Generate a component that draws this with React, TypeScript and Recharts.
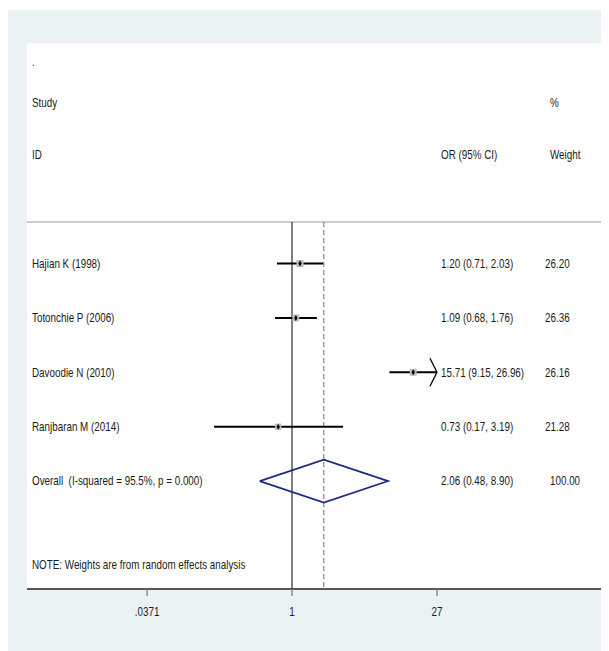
import { CartesianGrid, ReferenceLine, Scatter, ScatterChart, XAxis, YAxis } from "recharts";

// study-level results (odds ratios, 95% CI, random-effects weights)
const studies = ["Hajian K (1998)", "Totonchie P (2006)", "Davoodie N (2010)", "Ranjbaran M (2014)"];
const oddsRatios = [1.2, 1.09, 15.71, 0.73];
const lowerCI = [0.71, 0.68, 9.15, 0.17];
const upperCI = [2.03, 1.76, 26.96, 3.19];
const weights = [26.2, 26.36, 26.16, 21.28];
const clippedUpper = [false, false, true, false];

const overallLabel = "Overall  (I-squared = 95.5%, p = 0.000)";
const overallOR = 2.06;
const overallLower = 0.48;
const overallUpper = 8.9;
const overallWeight = 100;

const xTicks = [0.0371, 1, 27];
const xTickLabels = [".0371", "1", "27"];
const noteText = "NOTE: Weights are from random effects analysis";

// no narrow font installed -> squeeze Liberation Sans to Arial Narrow width
const FONT = "'Liberation Sans', Arial, sans-serif";
const SQUEEZE = 0.82;
const TEXT = "#1a1a1a";

// vertical layout in row units (study 1 = row 1)
const Y_DOMAIN: [number, number] = [-3.053, 6.983];
const SEP_ROW = 0.237;
const OVERALL_ROW = studies.length + 1;
const DIAMOND_H = 0.395;

const fmt = (v: number) => v.toFixed(2);
const ciText = (o: number, l: number, u: number) => `${fmt(o)} (${fmt(l)}, ${fmt(u)})`;

const studyPoints = studies.map((name, i) => ({
  x: oddsRatios[i],
  y: i + 1,
  w: weights[i],
}));

const textRows = [
  { x: 1, y: -2.704, left: ".", mid: "", right: "", wide: true },
  { x: 1, y: -1.96, left: "Study", mid: "", right: "%", wide: true },
  { x: 1, y: -0.994, left: "ID", mid: "OR (95% CI)", right: "Weight", wide: true },
  ...studies.map((name, i) => ({
    x: oddsRatios[i],
    y: i + 1,
    left: name,
    mid: ciText(oddsRatios[i], lowerCI[i], upperCI[i]),
    right: fmt(weights[i]),
    wide: false,
  })),
  {
    x: overallOR,
    y: OVERALL_ROW,
    left: overallLabel,
    mid: ciText(overallOR, overallLower, overallUpper),
    right: fmt(overallWeight),
    wide: true,
  },
  { x: 1, y: 6.54, left: noteText, mid: "", right: "", wide: true },
];

const diamond = [
  { x: overallLower, y: OVERALL_ROW },
  { x: overallOR, y: OVERALL_ROW - DIAMOND_H },
  { x: overallUpper, y: OVERALL_ROW },
  { x: overallOR, y: OVERALL_ROW + DIAMOND_H },
  { x: overallLower, y: OVERALL_ROW },
];

function Narrow({ x, y, children, anchor = "start", dy = "0.35em" }: any) {
  return (
    <g transform={`translate(${x},${y})`}>
      <text
        transform={`scale(${SQUEEZE},1)`}
        textAnchor={anchor}
        dy={dy}
        fontFamily={FONT}
        fontSize={12}
        fill={TEXT}
        style={{ whiteSpace: "pre" }}
      >
        {children}
      </text>
    </g>
  );
}

function TextRow(props: any) {
  const { cy, payload } = props;
  return (
    <g>
      {payload.left && <Narrow x={24} y={cy}>{payload.left}</Narrow>}
      {payload.mid && <Narrow x={433} y={cy}>{payload.mid}</Narrow>}
      {payload.right && (
        <Narrow x={payload.wide ? 542 : 537} y={cy}>
          {payload.right}
        </Narrow>
      )}
    </g>
  );
}

function AxisTick(props: any) {
  const { x, y, payload } = props;
  const label = xTickLabels[xTicks.indexOf(payload.value)] ?? String(payload.value);
  return (
    <Narrow x={x} y={y} anchor="middle" dy="0.71em">
      {label}
    </Narrow>
  );
}

function StudyMarker(props: any) {
  const { cx, cy, payload } = props;
  const s = 7 * Math.sqrt(payload.w / 26.36);
  return (
    <g>
      <rect x={cx - s / 2} y={cy - s / 2} width={s} height={s} fill="#bdbdbd" />
      <path d={`M${cx},${cy - 3}L${cx + 1.7},${cy}L${cx},${cy + 3}L${cx - 1.7},${cy}Z`} fill="#000" />
    </g>
  );
}

function CiLine(arrow: boolean) {
  return (p: any) => (
    <g>
      <line x1={p.x1} y1={p.y1} x2={p.x2} y2={p.y2} stroke="#000" strokeWidth={2} />
      {arrow && (
        <polyline
          points={`${p.x2 - 7},${p.y2 - 14} ${p.x2},${p.y2} ${p.x2 - 7},${p.y2 + 14}`}
          fill="none"
          stroke="#000"
          strokeWidth={1.3}
        />
      )}
    </g>
  );
}

export default function App() {
  return (
    <div style={{ width: 601, paddingTop: 2 }}>
      <div style={{ width: 601, height: 641, background: "#eaf2f3" }}>
        <ScatterChart width={601} height={641} margin={{ top: 33, right: 5, bottom: 22, left: 19 }}>
          <CartesianGrid fill="#ffffff" horizontal={false} vertical={false} />
          <XAxis
            dataKey="x"
            type="number"
            scale="log"
            domain={[0.00242, 1201]}
            allowDataOverflow
            ticks={xTicks}
            height={40}
            tickSize={7}
            tickMargin={11}
            tick={AxisTick}
            tickLine={{ stroke: "#8a8a8a", strokeWidth: 1.5 }}
            axisLine={{ stroke: "#222", strokeWidth: 1.5 }}
          />
          <YAxis dataKey="y" type="number" domain={Y_DOMAIN} reversed allowDataOverflow hide width={0} />

          <ReferenceLine y={SEP_ROW} stroke="#cccccc" strokeWidth={2} />
          <ReferenceLine
            segment={[
              { x: 1, y: SEP_ROW },
              { x: 1, y: Y_DOMAIN[1] },
            ]}
            stroke="#000"
            strokeWidth={1}
          />
          <ReferenceLine
            segment={[
              { x: overallOR, y: SEP_ROW },
              { x: overallOR, y: Y_DOMAIN[1] },
            ]}
            stroke="#b84a5c"
            strokeWidth={1}
            strokeDasharray="5 3"
          />

          {studies.map((name, i) => (
            <ReferenceLine
              key={name}
              segment={[
                { x: lowerCI[i], y: i + 1 },
                { x: upperCI[i], y: i + 1 },
              ]}
              shape={CiLine(clippedUpper[i])}
            />
          ))}

          <Scatter data={studyPoints} shape={StudyMarker} isAnimationActive={false} />
          <Scatter
            data={diamond}
            line={{ stroke: "#1b2a80", strokeWidth: 1.6 }}
            lineJointType="linear"
            shape={() => <g />}
            isAnimationActive={false}
          />
          <Scatter data={textRows} shape={TextRow} isAnimationActive={false} />
        </ScatterChart>
      </div>
    </div>
  );
}
